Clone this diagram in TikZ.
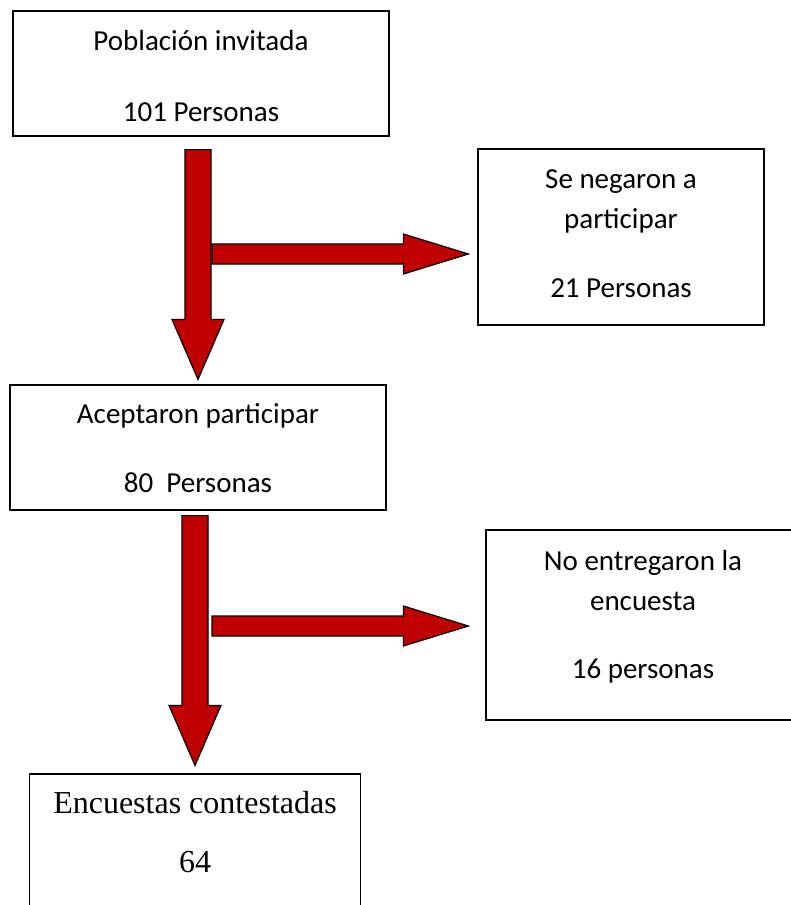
\documentclass[tikz,border=0pt]{standalone}
\usepackage{fontspec}
\setmainfont{Carlito}
\newfontfamily\timesfont{Liberation Serif}
\usetikzlibrary{calc}

\definecolor{arrowred}{RGB}{192,0,0}
\newcommand{\topgap}[1]{\rule{0pt}{#1}}
\newcommand{\botgap}[1]{\rule[-#1]{0pt}{#1}}

\newcommand{\downblock}[2]{%
  \draw[blockarrow] let \p1=(#1), \p2=(#2) in
    (\x2-13pt,\y1) -- (\x2+13pt,\y1) -- (\x2+13pt,\y2+60pt) -- (\x2+26pt,\y2+60pt)
    -- (\x2,\y2) -- (\x2-26pt,\y2+60pt) -- (\x2-13pt,\y2+60pt) -- cycle;}
\newcommand{\rightblock}[2]{%
  \draw[blockarrow] let \p1=(#1), \p2=(#2) in
    (\x1,\y1-10pt) -- (\x2-65pt,\y1-10pt) -- (\x2-65pt,\y1-20pt) -- (\x2,\y1)
    -- (\x2-65pt,\y1+20pt) -- (\x2-65pt,\y1+10pt) -- (\x1,\y1+10pt) -- cycle;}

\tikzset{
  box/.style={draw, line width=1.2pt, inner xsep=0pt, inner ysep=0pt, align=center,
    font=\fontsize{29}{34}\selectfont},
  blockarrow/.style={draw, fill=arrowred, line width=1.2pt, line join=miter}
}

\begin{document}
\begin{tikzpicture}[x=1pt, y=-1pt]
    \useasboundingbox (0,0) rectangle (791,905);

    \node[box, minimum width=376pt] (pob) at (201,73.5)
        {\topgap{39pt}Población invitada\\[37pt]101 Personas\botgap{15pt}};
    \node[box, minimum width=286pt] (neg) at (621,237)
        {\topgap{39pt}Se negaron a\\[6pt]participar\\[35pt]21 Personas\botgap{28pt}};
    \node[box, minimum width=376pt] (acep) at (198,447.5)
        {\topgap{38pt}Aceptaron participar\\[35pt]80\ \ Personas\botgap{18pt}};
    \node[box, minimum width=314pt] (noent) at (643,625)
        {\topgap{40pt}No entregaron la\\[6pt]encuesta\\[34pt]16 personas\botgap{42pt}};
    \node[box, minimum width=331pt, font=\timesfont\fontsize{32}{37}\selectfont] (enc) at (195,853)
        {\topgap{39pt}Encuestas contestadas\\[22pt]64\botgap{60pt}};

    \coordinate (fork1) at (212,254);
    \coordinate (fork2) at (212,626);

    \downblock{[yshift=-13pt]pob.south}{[yshift=5pt]acep.north}
    \rightblock{fork1}{[xshift=-9pt]neg.west}
    \downblock{[yshift=-5pt]acep.south}{[yshift=8pt]enc.north}
    \rightblock{fork2}{[xshift=-17pt]noent.west}
\end{tikzpicture}
\end{document}
